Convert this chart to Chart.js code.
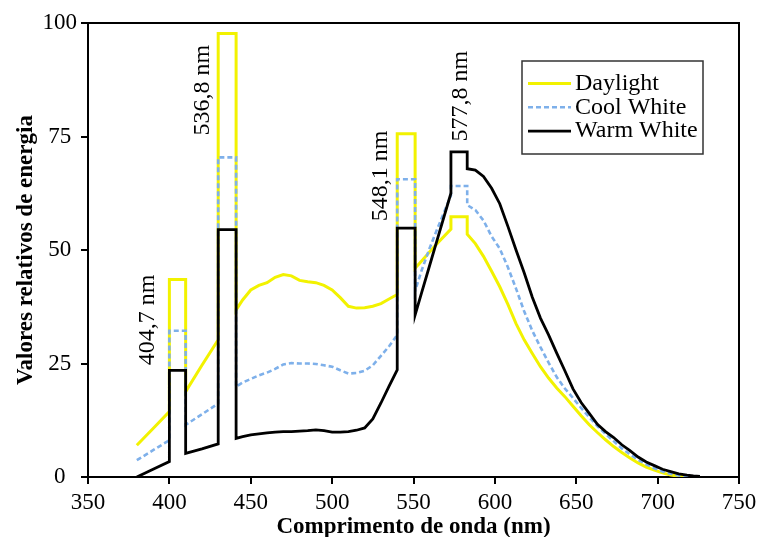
<!DOCTYPE html>
<html><head><meta charset="utf-8">
<script src="https://cdn.jsdelivr.net/npm/chart.js@4.4.0/dist/chart.umd.min.js"></script>
<style>html,body{margin:0;padding:0;background:#fff;}#wrap{width:759px;height:537px;}</style>
</head><body><div id="wrap"><canvas id="c" width="759" height="537"></canvas></div>
<script>
// ---- data ----
const wavelengths = [380,390,400,400,410,410,420,430,430,441,441,445,450,455,460,465,470,475,480,485,490,495,500,505,510,515,520,525,530,535,540,540,551,551,555,560,565,573,573,583,583,588,593,598,603,608,613,618,623,628,633,638,643,648,653,658,663,668,673,678,683,688,693,698,703,708,713,718,722,726];
const daylight = [7.0,10.7,14.4,43.5,43.5,18.8,24.6,30.2,97.7,97.7,36.8,39.0,41.2,42.2,42.8,44.0,44.6,44.3,43.3,43.0,42.8,42.2,41.2,39.5,37.6,37.2,37.3,37.6,38.2,39.2,40.2,75.6,75.6,46.0,47.6,49.6,51.6,54.6,57.3,57.3,53.5,51.4,48.6,45.3,41.9,38.0,33.8,30.2,27.2,24.3,21.8,19.6,17.7,15.6,13.5,11.5,9.8,8.2,6.7,5.4,4.2,3.1,2.2,1.5,0.9,0.45,0.15,0,null,null];
const coolWhite = [3.7,5.9,8.1,32.2,32.2,11.5,13.8,16.2,70.4,70.4,19.9,20.8,21.6,22.4,23.0,23.8,24.8,25.1,25.0,25.0,24.9,24.6,24.3,23.5,22.8,22.9,23.4,24.6,26.7,28.8,31.3,65.6,65.6,41.0,45.5,50.5,55.0,62.0,64.1,64.1,59.9,58.8,56.5,53.0,50.3,46.2,41.5,36.5,32.2,28.6,25.2,22.0,19.5,17.4,15.2,13.2,11.2,9.5,7.9,6.3,5.0,3.8,2.8,1.9,1.2,0.7,0.35,0.15,0.05,0];
const warmWhite = [0,1.7,3.4,23.5,23.5,5.2,6.2,7.3,54.5,54.5,8.5,8.9,9.3,9.5,9.7,9.9,10.0,10.0,10.1,10.2,10.4,10.2,9.9,9.9,10.0,10.3,10.8,12.8,16.3,20.0,23.6,54.8,54.8,35.7,40.6,46.7,52.8,62.5,71.6,71.6,67.9,67.6,66.2,63.6,60.2,55.2,50.0,45.0,39.6,35.0,31.3,27.3,23.4,19.4,16.4,14.0,11.6,10.0,8.7,7.1,5.8,4.4,3.3,2.5,1.7,1.2,0.7,0.4,0.25,0.15];
const seriesNames = ['Daylight','Cool White','Warm White'];
const peakLabels = ['404,7 nm','536,8 nm','548,1 nm','577,8 nm'];
const xTitle = 'Comprimento de onda (nm)';
const yTitle = 'Valores relativos de energia';

// ---- placement / style (not data) ----
const peakLabelAnchors = [[386.4,34.6],[420.2,85.2],[530.1,66.3],[579.3,83.9]];
const FONT = "'Liberation Serif','Times New Roman',serif";
const YELLOW = '#f2f200', BLUE = '#7eb0ea', BLACK = '#000000';

const pts = vals => wavelengths.map((x,i)=>({x:x,y:vals[i]}));

const framePlugin = {
  id:'frame',
  afterDatasetsDraw(chart){
    const {ctx, chartArea:a} = chart;
    ctx.save();
    ctx.strokeStyle='#000'; ctx.lineWidth=2;
    ctx.beginPath(); ctx.moveTo(a.left-1,a.top); ctx.lineTo(a.right,a.top); ctx.lineTo(a.right,a.bottom+1); ctx.stroke();
    const xs = chart.scales.x, ys = chart.scales.y;
    ctx.fillStyle='#000'; ctx.font='24px '+FONT; ctx.textAlign='center'; ctx.textBaseline='middle';
    peakLabels.forEach((t,i)=>{
      const px = xs.getPixelForValue(peakLabelAnchors[i][0]);
      const py = ys.getPixelForValue(peakLabelAnchors[i][1]);
      ctx.save(); ctx.translate(px,py); ctx.rotate(-Math.PI/2); ctx.fillText(t,0,0); ctx.restore();
    });
    ctx.restore();
  },
  afterDraw(chart){
    const {ctx, chartArea:a} = chart;
    const bx = a.right-217, by = a.top+38, bw = 181, bh = 93;
    ctx.save();
    ctx.fillStyle='#fff'; ctx.fillRect(bx,by,bw,bh);
    ctx.strokeStyle='#333'; ctx.lineWidth=1.5; ctx.strokeRect(bx,by,bw,bh);
    ctx.font='24px '+FONT; ctx.textBaseline='middle'; ctx.textAlign='left'; ctx.fillStyle='#000';
    chart.data.datasets.forEach((ds,i)=>{
      const y = by + 22.5 + i*23.8;
      ctx.strokeStyle=ds.borderColor; ctx.lineWidth=ds.borderWidth;
      ctx.setLineDash(ds.borderDash||[]);
      ctx.beginPath(); ctx.moveTo(bx+6,y); ctx.lineTo(bx+49,y); ctx.stroke();
      ctx.setLineDash([]);
      ctx.fillText(ds.label, bx+53, y);
    });
    ctx.restore();
  }
};

new Chart(document.getElementById('c'), {
  type:'line',
  data:{datasets:[
    {label:seriesNames[0], data:pts(daylight), borderColor:YELLOW, borderWidth:3, order:3},
    {label:seriesNames[1], data:pts(coolWhite), borderColor:BLUE, borderWidth:2.6, borderDash:[5,3], order:2},
    {label:seriesNames[2], data:pts(warmWhite), borderColor:BLACK, borderWidth:2.8, order:1}
  ]},
  options:{
    responsive:false, animation:false, devicePixelRatio:1,
    layout:{padding:{top:23,right:20,bottom:0,left:0}},
    elements:{point:{radius:0}, line:{tension:0, fill:false, borderJoinStyle:'miter'}},
    spanGaps:false,
    plugins:{legend:{display:false}, tooltip:{enabled:false}},
    scales:{
      x:{type:'linear', min:350, max:750,
        ticks:{stepSize:50, color:'#000', font:{family:FONT,size:23}, padding:5, maxRotation:0},
        grid:{drawOnChartArea:false, drawTicks:true, tickLength:7, lineWidth:2, color:'#000'},
        border:{display:true, color:'#000', width:2},
        title:{display:true, text:xTitle, color:'#000', font:{family:FONT,size:23,weight:'bold',lineHeight:0.85}, padding:{top:0,bottom:0}},
        afterFit(s){ s.height = 60; s.paddingRight = 18; }
      },
      y:{min:0, max:100,
        ticks:{stepSize:25, color:'#000', font:{family:FONT,size:23}, padding:4, crossAlign:'center'},
        grid:{drawOnChartArea:false, drawTicks:true, tickLength:7, lineWidth:2, color:'#000'},
        border:{display:true, color:'#000', width:2},
        title:{display:true, text:yTitle, color:'#000', font:{family:FONT,size:23,weight:'bold',lineHeight:1}, padding:{top:15,bottom:0}},
        afterFit(s){ s.width = 88; }
      }
    }
  },
  plugins:[framePlugin]
});
</script></body></html>
